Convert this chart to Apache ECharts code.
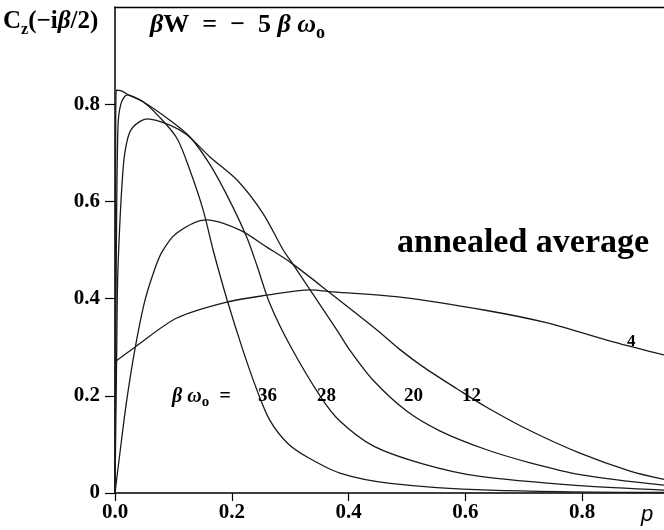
<!DOCTYPE html>
<html>
<head>
<meta charset="utf-8">
<script src="https://cdn.jsdelivr.net/npm/echarts@6/dist/echarts.min.js"></script>
<style>
html,body{margin:0;padding:0;background:#fff}
#chart{width:664px;height:530px}
</style>
</head>
<body>
<div id="chart"></div>
<script>
// 坐标轴刻度
var xTicks = [0, 0.2, 0.4, 0.6, 0.8];
var xTickLabels = ['0.0', '0.2', '0.4', '0.6', '0.8'];
var yTicks = [0, 0.2, 0.4, 0.6, 0.8];
var yTickLabels = ['0', '0.2', '0.4', '0.6', '0.8'];

// βω0 = 36
var p36 = [0, 0.001, 0.002, 0.01, 0.025, 0.048, 0.075, 0.106, 0.128, 0.151, 0.168, 0.192, 0.219, 0.243, 0.265, 0.295, 0.329, 0.385, 0.471, 0.642, 0.94];
var c36 = [0, 0.6, 0.829, 0.828, 0.818, 0.805, 0.775, 0.73, 0.665, 0.582, 0.5, 0.397, 0.294, 0.212, 0.15, 0.103, 0.074, 0.041, 0.02, 0.006, 0.001];
// βω0 = 28
var p28 = [0, 0.002, 0.005, 0.01, 0.021, 0.048, 0.094, 0.128, 0.163, 0.197, 0.226, 0.243, 0.265, 0.3, 0.351, 0.385, 0.442, 0.527, 0.625, 0.796, 0.94];
var c28 = [0, 0.45, 0.75, 0.8, 0.819, 0.805, 0.767, 0.733, 0.675, 0.6, 0.525, 0.468, 0.39, 0.303, 0.2, 0.148, 0.097, 0.06, 0.034, 0.015, 0.006];
// βω0 = 20
var p20 = [0, 0.003, 0.005, 0.0137, 0.021, 0.031, 0.055, 0.094, 0.123, 0.163, 0.209, 0.253, 0.288, 0.3, 0.38, 0.402, 0.442, 0.5, 0.556, 0.634, 0.711, 0.796, 0.94];
var c20 = [0, 0.3, 0.459, 0.665, 0.726, 0.753, 0.77, 0.757, 0.737, 0.691, 0.644, 0.576, 0.5, 0.479, 0.335, 0.294, 0.232, 0.168, 0.128, 0.09, 0.062, 0.038, 0.016];
// βω0 = 12
var p12 = [0, 0.009, 0.02, 0.034, 0.05, 0.065, 0.08, 0.106, 0.157, 0.214, 0.26, 0.3, 0.37, 0.449, 0.488, 0.527, 0.586, 0.634, 0.711, 0.796, 0.882, 0.94];
var c12 = [0, 0.088, 0.19, 0.295, 0.39, 0.45, 0.495, 0.535, 0.562, 0.541, 0.506, 0.475, 0.41, 0.335, 0.295, 0.26, 0.214, 0.178, 0.128, 0.082, 0.045, 0.028];
// βω0 = 4
var p4 = [0, 0.034, 0.106, 0.192, 0.26, 0.334, 0.373, 0.488, 0.634, 0.74, 0.853, 0.94];
var c4 = [0.27, 0.3, 0.36, 0.393, 0.407, 0.418, 0.414, 0.403, 0.376, 0.35, 0.311, 0.284];

var curveNames = ['36', '28', '20', '12', '4'];
var curveP = [p36, p28, p20, p12, p4];
var curveC = [c36, c28, c20, c12, c4];

var serif = "'Liberation Serif', 'DejaVu Serif', serif";

function tickLabel(list, labels) {
    return function (v) {
        for (var i = 0; i < list.length; i++) {
            if (Math.abs(list[i] - v) < 1e-6) return labels[i];
        }
        return '';
    };
}

function note(text, left, top, size) {
    return {text: text, left: left, top: top, padding: 0,
        textStyle: {fontFamily: serif, fontWeight: 'bold', fontSize: size, color: '#000'}};
}

var series = [];
for (var k = 0; k < curveNames.length; k++) {
    var pts = [];
    for (var i = 0; i < curveP[k].length; i++) {
        pts.push([curveP[k][i], curveC[k][i]]);
    }
    series.push({
        name: curveNames[k],
        type: 'line',
        data: pts,
        symbol: 'none',
        smooth: 0.3,
        lineStyle: {color: '#1a1a1a', width: 1.3}
    });
}

var chart = echarts.init(document.getElementById('chart'));
var option = {
    animation: false,
    backgroundColor: '#fff',
    grid: {left: 115, right: 0, top: 7, bottom: 37},
    title: [
        {
            text: '{b|C}{s|z}{b|(−i}{i|β}{b|/2)}',
            left: 3, top: 6, padding: 0,
            textStyle: {
                rich: {
                    b: {fontFamily: serif, fontWeight: 'bold', fontSize: 25, color: '#000', lineHeight: 32, verticalAlign: 'middle'},
                    i: {fontFamily: serif, fontStyle: 'italic', fontSize: 25, color: '#000', lineHeight: 32, verticalAlign: 'middle'},
                    s: {fontFamily: serif, fontWeight: 'bold', fontSize: 16, color: '#000', lineHeight: 32, verticalAlign: 'bottom'}
                }
            }
        },
        {
            text: '{i|β}{b|W  =  −  5 }{i|β ω}{s|o}',
            left: 150, top: 8, padding: 0,
            textStyle: {
                rich: {
                    b: {fontFamily: serif, fontWeight: 'bold', fontSize: 26, color: '#000', lineHeight: 34, verticalAlign: 'middle'},
                    i: {fontFamily: serif, fontStyle: 'italic', fontSize: 26, color: '#000', lineHeight: 34, verticalAlign: 'middle'},
                    s: {fontFamily: serif, fontWeight: 'bold', fontSize: 18, color: '#000', lineHeight: 34, verticalAlign: 'bottom'}
                }
            }
        },
        note('annealed average', 397, 226, 34),
        {
            text: '{i|β ω}{s|o}{i|  =}',
            left: 172, top: 384, padding: 0,
            textStyle: {
                rich: {
                    i: {fontFamily: serif, fontStyle: 'italic', fontSize: 20, color: '#000', lineHeight: 26, verticalAlign: 'middle'},
                    s: {fontFamily: serif, fontWeight: 'bold', fontSize: 15, color: '#000', lineHeight: 26, verticalAlign: 'bottom'}
                }
            }
        },
        note('36', 258, 387, 19),
        note('28', 317, 387, 19),
        note('20', 404, 387, 19),
        note('12', 462, 387, 19),
        note('4', 627, 333, 17),
        {text: 'p', left: 641, top: 504, padding: 0, textStyle: {fontFamily: "'Liberation Sans', sans-serif", fontStyle: 'italic', fontWeight: 'normal', fontSize: 22, color: '#000'}}
    ],
    xAxis: [
        {
            type: 'value', min: 0, max: 0.94, interval: 0.2,
            axisLine: {show: true, lineStyle: {color: '#000', width: 1.5}},
            axisTick: {show: true, length: 8, customValues: xTicks, lineStyle: {color: '#000', width: 1.2}},
            axisLabel: {customValues: xTicks, formatter: tickLabel(xTicks, xTickLabels), margin: 9,
                fontFamily: serif, fontWeight: 'bold', fontSize: 21, color: '#000'},
            splitLine: {show: false}
        },
        {
            type: 'value', position: 'top', min: 0, max: 0.94,
            axisLine: {show: true, onZero: false, lineStyle: {color: '#000', width: 1.3}},
            axisTick: {show: false}, axisLabel: {show: false}, splitLine: {show: false}
        }
    ],
    yAxis: {
        type: 'value', min: 0, max: 1.0, interval: 0.2,
        axisLine: {show: true, lineStyle: {color: '#000', width: 1.5}},
        axisTick: {show: true, length: 10, customValues: yTicks, lineStyle: {color: '#000', width: 1.2}},
        axisLabel: {customValues: yTicks, formatter: tickLabel(yTicks, yTickLabels), margin: 15,
            fontFamily: serif, fontWeight: 'bold', fontSize: 21, color: '#000'},
        splitLine: {show: false}
    },
    series: series
};
chart.setOption(option);
</script>
</body>
</html>
